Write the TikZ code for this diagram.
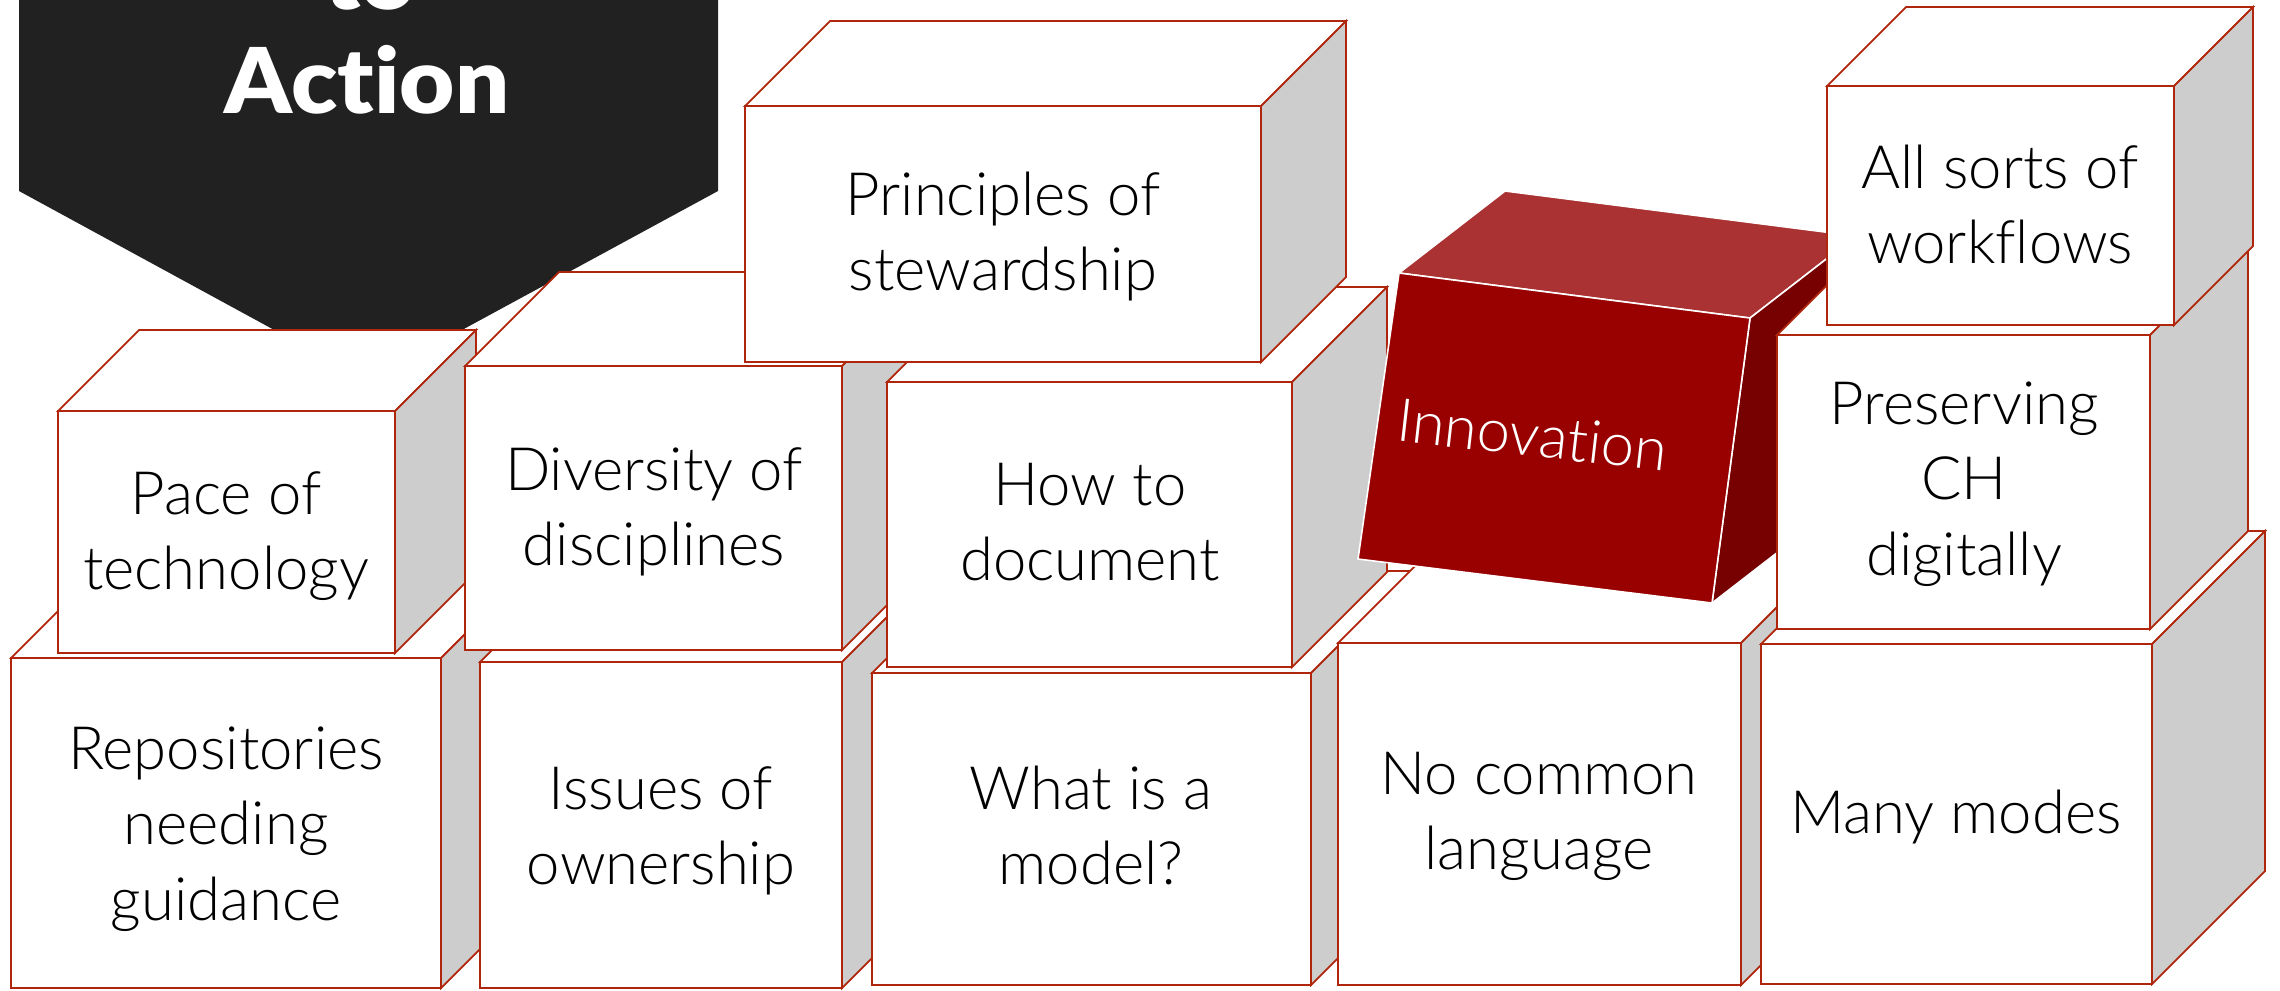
\documentclass[tikz,border=0pt]{standalone}
\usepackage{fontspec}
\newfontfamily\boxfont{Lato Light}[Ligatures=NoCommon]
\newfontfamily\actionfont{Lato Black}[Ligatures=NoCommon]
\definecolor{boxred}{RGB}{176,38,12}
\definecolor{sidegray}{RGB}{205,205,205}
\definecolor{panel}{RGB}{33,33,33}
\definecolor{innofront}{RGB}{153,0,0}
\definecolor{innotop}{RGB}{170,50,50}
\definecolor{innoside}{RGB}{119,0,0}
\tikzset{
  boxline/.style={draw=boxred, line width=0.5pt, line join=miter},
  boxtext/.style={font=\boxfont\fontsize{17}{21.6}\selectfont, text=black, inner sep=0pt, anchor=base},
  innoface/.style={draw=white, line width=0.45pt, line join=round},
  actiontext/.style={font=\actionfont\fontsize{25.8}{31}\selectfont, text=white, inner sep=0pt, anchor=base}
}
\newcommand{\boxlines}[1]{\begin{tabular}[t]{@{}c@{}}#1\end{tabular}}
% #1 x1, #2 y1 (top), #3 x2, #4 y2 (bottom), #5 depth
\newcommand{\drawcube}[5]{%
  \filldraw[boxline, fill=white] (#1,#2) -- ({#1+#5},{#2-#5}) -- ({#3+#5},{#2-#5}) -- (#3,#2) -- cycle;
  \filldraw[boxline, fill=sidegray] (#3,#2) -- ({#3+#5},{#2-#5}) -- ({#3+#5},{#4-#5}) -- (#3,#4) -- cycle;
  \filldraw[boxline, fill=white] (#1,#2) rectangle (#3,#4);
}
\begin{document}
\begin{tikzpicture}[x=0.01cm, y=-0.01cm]
\useasboundingbox (0,0) rectangle (2280,990);
% call-to-action panel
\fill[panel] (19,-60) -- (718,-60) -- (718,191) -- (368,381) -- (19,191) -- cycle;
\node[actiontext] (to) at (370,9) {\scalebox{1.05}[1]{to}};
\node[actiontext] (action) at (367,113) {\scalebox{1.05}[1]{Action}};
% bottom row
\drawcube{11}{658}{441}{988}{85}
\drawcube{480}{662}{842}{988}{85}
\drawcube{872}{673}{1311}{985}{102}
\drawcube{1338}{643}{1741}{985}{100}
\drawcube{1761}{644}{2152}{984}{113}
\node[boxtext] (repos) at (226,769) {\boxlines{Repositories\\needing\\guidance}};
\node[boxtext] (issues) at (661,809) {\boxlines{Issues of\\ownership}};
\node[boxtext] (what) at (1091,809) {\boxlines{What is a\\model?}};
\node[boxtext] (nocommon) at (1539,794) {\boxlines{No common\\language}};
\node[boxtext] (many) at (1956,833) {Many modes};
% middle row
\drawcube{58}{411}{395}{653}{81}
\drawcube{465}{366}{842}{650}{94}
\drawcube{887}{382}{1292}{667}{95}
\node[boxtext] (pace) at (226,514) {\boxlines{Pace of\\technology}};
\node[boxtext] (diversity) at (654,490) {\boxlines{Diversity of\\disciplines}};
\node[boxtext] (how) at (1090,505) {\boxlines{How to\\document}};
% innovation block
\filldraw[innoface, fill=innotop] (1399,273) -- (1505,191) -- (1856,236) -- (1750,318) -- cycle;
\filldraw[innoface, fill=innoside] (1750,318) -- (1856,236) -- (1818,521) -- (1712,603) -- cycle;
\filldraw[innoface, fill=innofront] (1399,273) -- (1750,318) -- (1712,603) -- (1358,559) -- cycle;
\node[boxtext, text=white, rotate=-6.5] (innovation) at (1530,456) {Innovation};
\drawcube{1777}{335}{2150}{629}{98}
\node[boxtext] (preserving) at (1964,424) {\boxlines{Preserving\\CH\\digitally}};
% top row
\drawcube{745}{106}{1261}{362}{85}
\drawcube{1827}{86}{2174}{325}{79}
\node[boxtext] (principles) at (1003,215) {\boxlines{Principles of\\stewardship}};
\node[boxtext] (allsorts) at (2000,188) {\boxlines{All sorts of\\workflows}};
\end{tikzpicture}
\end{document}
